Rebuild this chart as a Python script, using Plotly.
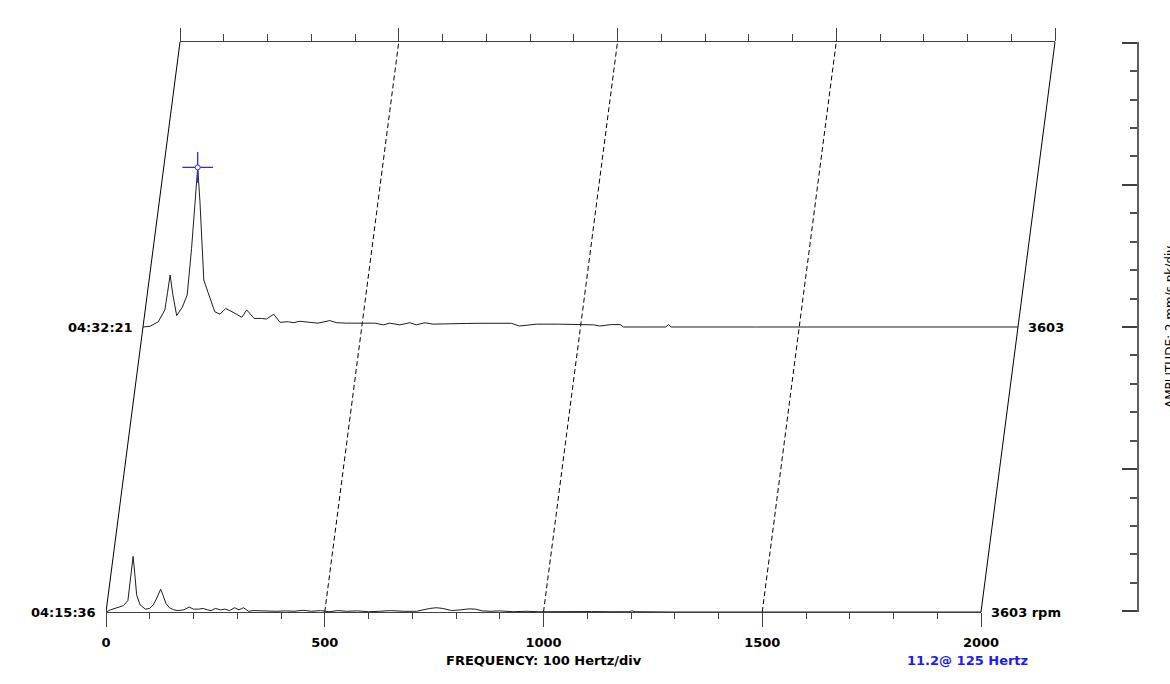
import plotly.graph_objects as go

# ---------------- data ----------------
TIMES = ["04:15:36", "04:32:21"]
RPM_LABELS = ["3603 rpm", "3603"]
DEPTH = [0.0, 0.5]            # position of each spectrum along the waterfall depth

FREQ_B = [0, 10, 25, 40, 50, 56, 62, 66, 70, 78,
          86, 90, 100, 108, 115, 120, 125, 130, 137, 145,
          155, 165, 178, 190, 200, 212, 222, 232, 240, 250,
          262, 272, 282, 294, 304, 314, 326, 336, 350, 370,
          390, 410, 430, 450, 470, 490, 510, 530, 550, 575,
          600, 625, 650, 680, 710, 740, 755, 770, 790, 810,
          830, 845, 860, 880, 900, 930, 960, 990, 1030, 1070,
          1090, 1110, 1150, 1195, 1202, 1210, 1300, 1500, 1800, 2000]
AMP_B = [0, 0.15, 0.3, 0.45, 0.8, 2.2, 3.9, 2.6, 1.2, 0.5,
         0.3, 0.2, 0.25, 0.5, 0.9, 1.3, 1.6, 1.2, 0.6, 0.3,
         0.15, 0.1, 0.15, 0.35, 0.2, 0.2, 0.25, 0.15, 0.1, 0.25,
         0.15, 0.2, 0.1, 0.3, 0.15, 0.3, 0.05, 0.1, 0.08, 0.1,
         0.05, 0.08, 0.05, 0.12, 0.05, 0.1, 0.02, 0.1, 0.05, 0.08,
         0.02, 0.05, 0.1, 0.05, 0.05, 0.25, 0.3, 0.25, 0.1, 0.15,
         0.22, 0.2, 0.08, 0.05, 0.08, 0.02, 0.05, 0.02, 0.04, 0.03,
         0.05, 0.03, 0.02, 0.02, 0.08, 0.02, 0, 0, 0, 0]

FREQ_T = [0, 16, 35, 50, 56, 62, 68, 77, 90, 101,
          111, 118, 125, 130, 139, 149, 164, 176, 189, 206,
          226, 237, 254, 271, 282, 299, 313, 332, 343, 359,
          381, 400, 427, 443, 465, 503, 530, 549, 564, 587,
          610, 625, 644, 663, 701, 740, 777, 810, 842, 860,
          900, 950, 999, 1030, 1044, 1070, 1091, 1098, 1150, 1195,
          1201, 1207, 1400, 1700, 2000]
AMP_T = [0, 0.05, 0.37, 1.2, 2.4, 3.65, 2.3, 0.8, 1.4, 2.25,
         5.5, 8.3, 11.2, 8.9, 3.3, 2.4, 1.07, 0.9, 1.3, 1.03,
         0.68, 1.2, 0.6, 0.6, 0.56, 0.9, 0.33, 0.37, 0.3, 0.4,
         0.35, 0.27, 0.45, 0.3, 0.27, 0.27, 0.27, 0.15, 0.27, 0.15,
         0.3, 0.15, 0.3, 0.2, 0.2, 0.25, 0.26, 0.26, 0.26, 0.07,
         0.2, 0.2, 0.2, 0.15, 0.07, 0.17, 0.17, 0.0, 0.0, 0.0,
         0.17, 0.0, 0.0, 0.0, 0.0]

FREQ_TICKS = [0, 500, 1000, 1500, 2000]
PEAK_FREQ = 125
PEAK_AMP = 11.2
X_TITLE = "FREQUENCY: 100 Hertz/div"
Y_TITLE = "AMPLITUDE: 2 mm/s pk/div"

# ---------------- geometry ----------------
W, H = 1170, 684
ML, MR, MT, MB = 106, 32, 42, 72
PLOT_W = W - ML - MR
PLOT_H = H - MT - MB
FMAX = 2000
AMP_MAX = 40
PX_PER_HZ = 875 / FMAX
SKEW_PX = 74
SKEW_HZ = SKEW_PX / PX_PER_HZ
XMAX = PLOT_W / PX_PER_HZ

FONT = "DejaVu Sans"
INK = "#1e1e1e"
AXC = "#404040"

fig = go.Figure()

# dummy traces to instantiate the decorative axes (drawn first)
for xa, ya in [("x2", "y"), ("x3", "y"), ("x", "y2")]:
    fig.add_trace(go.Scatter(x=[0], y=[0], mode="markers",
                             marker=dict(opacity=0), hoverinfo="skip",
                             showlegend=False, xaxis=xa, yaxis=ya))

# frame and depth grid lines
for g in FREQ_TICKS:
    solid = g in (0, FMAX)
    fig.add_trace(go.Scatter(
        x=[g, g + SKEW_HZ], y=[0, AMP_MAX], mode="lines",
        line=dict(color="#000000", width=1, dash="solid" if solid else "5px,3px"),
        hoverinfo="skip", showlegend=False, xaxis="x", yaxis="y"))

# spectra
for freqs, amps, d in [(FREQ_B, AMP_B, DEPTH[0]), (FREQ_T, AMP_T, DEPTH[1])]:
    fig.add_trace(go.Scatter(
        x=[f + d * SKEW_HZ for f in freqs],
        y=[a + d * AMP_MAX for a in amps],
        mode="lines", line=dict(color=INK, width=1),
        showlegend=False, xaxis="x", yaxis="y"))

# peak cursor
px = PEAK_FREQ + DEPTH[1] * SKEW_HZ
py = PEAK_AMP + DEPTH[1] * AMP_MAX
fig.add_trace(go.Scatter(x=[px], y=[py], mode="markers",
                         marker=dict(symbol="cross-thin", size=22,
                                     line=dict(color="#2a2aff", width=1.3)),
                         showlegend=False, xaxis="x", yaxis="y"))
fig.add_trace(go.Scatter(x=[px], y=[py], mode="markers",
                         marker=dict(symbol="circle", size=5, color="white",
                                     line=dict(color="#2a2aff", width=1)),
                         showlegend=False, xaxis="x", yaxis="y"))

tickfont = dict(family=FONT, size=13, color="#000000", weight="bold")
EPS = 0.05

fig.update_layout(
    width=W, height=H,
    margin=dict(l=ML, r=MR, t=MT, b=MB, pad=0),
    paper_bgcolor="white", plot_bgcolor="rgba(0,0,0,0)",
    showlegend=False,
    xaxis=dict(domain=[0, 1], range=[0, XMAX], visible=False, anchor="y"),
    yaxis=dict(domain=[0, 1], range=[0, AMP_MAX], visible=False, anchor="x"),
    xaxis2=dict(domain=[0, FMAX * PX_PER_HZ / PLOT_W], range=[0, FMAX],
                anchor="y", side="bottom", showline=True, linecolor=AXC,
                linewidth=1, ticks="outside", ticklen=14, tickwidth=1,
                tickcolor=AXC, tickmode="array", tickvals=FREQ_TICKS,
                ticktext=[str(v) for v in FREQ_TICKS],
                minor=dict(ticks="outside", ticklen=6, tickwidth=1,
                           tickcolor=AXC, dtick=100, tick0=0, showgrid=False),
                tickfont=tickfont, showgrid=False, zeroline=False,
                ticklabelstandoff=4),
    xaxis3=dict(domain=[SKEW_PX / PLOT_W, (SKEW_PX + FMAX * PX_PER_HZ) / PLOT_W],
                range=[0, FMAX], anchor="y", side="top", showline=True,
                linecolor=AXC, linewidth=1, ticks="outside", ticklen=13,
                tickwidth=1, tickcolor=AXC, dtick=500, tick0=0,
                minor=dict(ticks="outside", ticklen=7, tickwidth=1,
                           tickcolor=AXC, dtick=100, tick0=0, showgrid=False),
                showticklabels=False, showgrid=False, zeroline=False),
    yaxis2=dict(overlaying="y", side="left", anchor="free", position=1.0,
                range=[-EPS, AMP_MAX + EPS], showline=True, linecolor="#606060",
                linewidth=2, ticks="outside", ticklen=15, tickwidth=2,
                tickcolor="#404040", dtick=10, tick0=0,
                minor=dict(ticks="outside", ticklen=7, tickwidth=2,
                           tickcolor="#505050", dtick=2, tick0=0, showgrid=False),
                showticklabels=False, showgrid=False, zeroline=False),
)

bold = dict(family=FONT, size=13, color="#000000", weight="bold")
ann = []
for t, r, d in zip(TIMES, RPM_LABELS, DEPTH):
    ann.append(dict(x=d * SKEW_HZ, y=d * AMP_MAX, xref="x", yref="y",
                    text=t, showarrow=False, xanchor="right", yanchor="middle",
                    xshift=-8, font=bold))
    ann.append(dict(x=FMAX + d * SKEW_HZ, y=d * AMP_MAX, xref="x", yref="y",
                    text=r, showarrow=False, xanchor="left", yanchor="middle",
                    xshift=8, font=bold))
ann.append(dict(x=1000, y=-48 / PLOT_H, xref="x2", yref="paper", text=X_TITLE,
                showarrow=False, xanchor="center", yanchor="middle", font=bold))
ann.append(dict(x=(967 - ML) / PLOT_W, y=-48 / PLOT_H, xref="paper", yref="paper",
                text=f"{PEAK_AMP}@ {PEAK_FREQ} Hertz", showarrow=False,
                xanchor="center", yanchor="middle",
                font=dict(family=FONT, size=13, color="#1a1aff", weight="bold")))
ann.append(dict(x=(1170 - ML) / PLOT_W, y=0.5, xref="paper", yref="paper",
                text=Y_TITLE, showarrow=False, textangle=-90,
                xanchor="center", yanchor="middle",
                font=dict(family=FONT, size=12, color="#000000")))
fig.update_layout(annotations=ann)

fig.write_html("out.html")
